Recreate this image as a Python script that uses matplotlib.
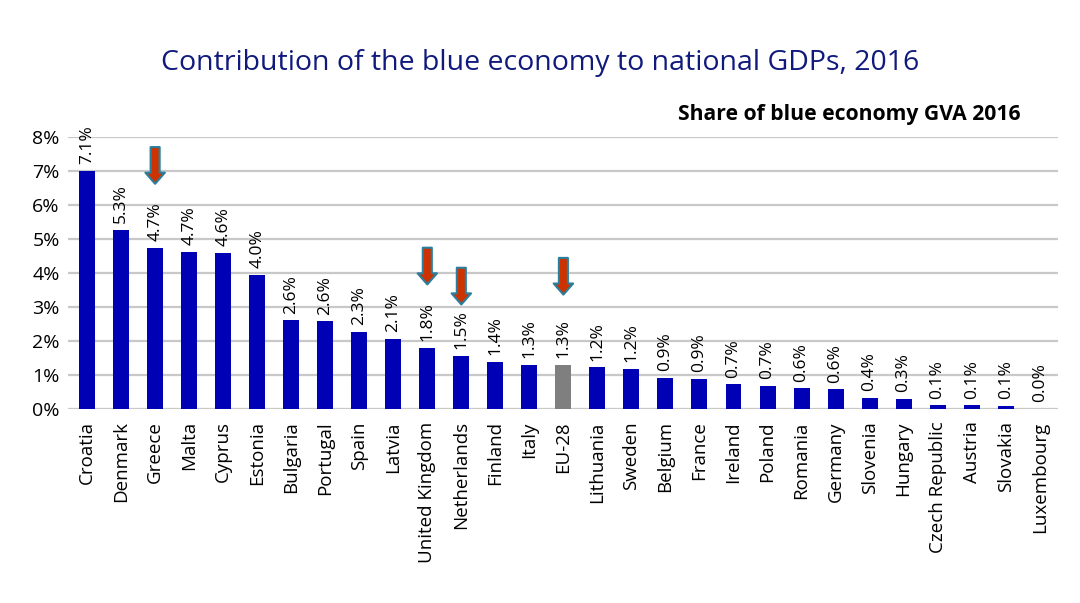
import matplotlib.pyplot as plt
import numpy as np

countries = ["Croatia", "Denmark", "Greece", "Malta", "Cyprus", "Estonia", "Bulgaria",
             "Portugal", "Spain", "Latvia", "United Kingdom", "Netherlands", "Finland",
             "Italy", "EU-28", "Lithuania", "Sweden", "Belgium", "France", "Ireland",
             "Poland", "Romania", "Germany", "Slovenia", "Hungary", "Czech Republic",
             "Austria", "Slovakia", "Luxembourg"]
share = [7.1, 5.3, 4.7, 4.7, 4.6, 4.0, 2.6, 2.6, 2.3, 2.1, 1.8, 1.5, 1.4, 1.3, 1.3,
         1.2, 1.2, 0.9, 0.9, 0.7, 0.7, 0.6, 0.6, 0.4, 0.3, 0.1, 0.1, 0.1, 0.0]
# bar heights as drawn (labels are rounded)
heights = [7.0, 5.26, 4.73, 4.62, 4.59, 3.95, 2.6, 2.57, 2.27, 2.05, 1.8, 1.55, 1.38,
           1.3, 1.3, 1.22, 1.18, 0.92, 0.88, 0.72, 0.68, 0.6, 0.57, 0.33, 0.29,
           0.1, 0.1, 0.08, 0.0]
highlighted = ["Greece", "United Kingdom", "Netherlands", "EU-28"]
arrow_top = [7.7, 4.74, 4.15, 4.44]

plt.rcParams['font.family'] = ['Open Sans', 'DejaVu Sans']

fig = plt.figure(figsize=(10.8, 6.03), dpi=100)
ax = fig.add_axes([0.063, 0.322, 0.917, 0.451])

x = np.arange(len(countries))
colors = ["#7f7f7f" if c == "EU-28" else "#0000b4" for c in countries]
ax.bar(x, heights, width=0.47, color=colors, zorder=3)

for xi, h, s in zip(x, heights, share):
    ax.text(xi, h + 0.2, f"{s:.1f}%", rotation=90, ha="center", va="bottom",
            fontsize=12.5, color="black", zorder=4)

for name, top in zip(highlighted, arrow_top):
    xi = countries.index(name)
    ax.annotate("", xy=(xi, top - 1.08), xytext=(xi, top),
                arrowprops=dict(arrowstyle="simple,head_length=0.8,head_width=1.4,tail_width=0.65",
                                facecolor="#cc3300", edgecolor="#2a7f9e", lw=1.5,
                                shrinkA=0, shrinkB=0),
                zorder=5, annotation_clip=False)

ax.set_xlim(-0.56, len(countries) - 0.45)
ax.set_ylim(0, 8)
ax.set_yticks(range(0, 9))
ax.set_yticklabels([f"{i}%" for i in range(0, 9)], fontsize=14)
ax.set_xticks(x)
ax.set_xticklabels(countries, rotation=90, fontsize=13.5)
ax.tick_params(axis="x", length=0, pad=9)
ax.tick_params(axis="y", length=0, pad=6)
ax.yaxis.grid(True, color="#c8c8c8", lw=1.6, zorder=0)
for s in ax.spines.values():
    s.set_visible(False)

fig.text(0.5, 0.896, "Contribution of the blue economy to national GDPs, 2016",
         ha="center", va="center", fontsize=20.5, color="#101a7c")
fig.text(0.945, 0.81, "Share of blue economy GVA 2016", ha="right", va="center",
         fontsize=15.2, fontweight="bold", color="black")

fig.savefig("out.png", dpi=100, facecolor="white")
